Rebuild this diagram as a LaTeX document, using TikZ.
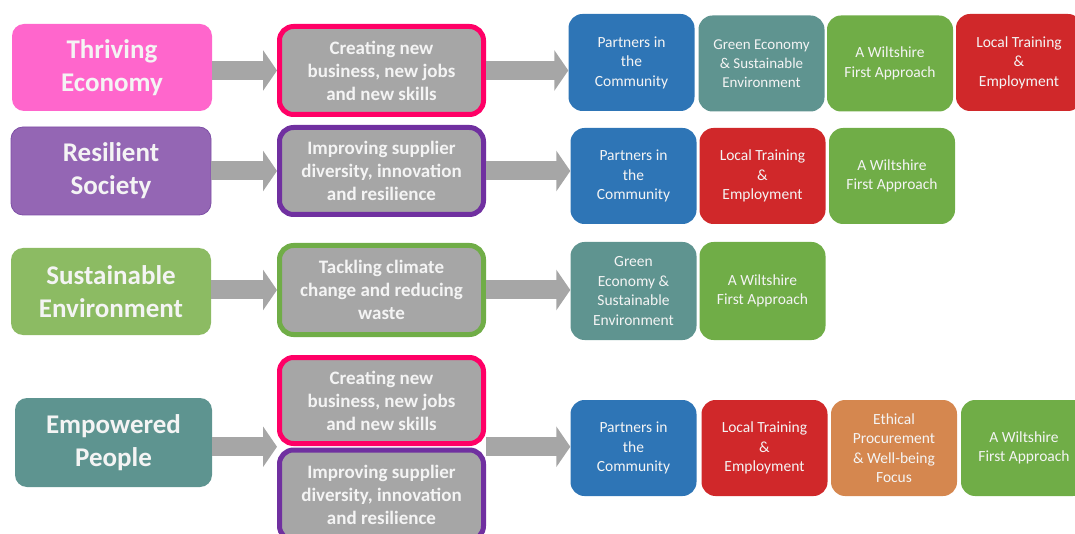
\documentclass[tikz,border=0pt]{standalone}
\usepackage{fontspec}
\setmainfont{Carlito}
\usetikzlibrary{arrows.meta,calc}
\definecolor{pinkL}{HTML}{FF66CC}
\definecolor{purpleL}{HTML}{9466B4}
\definecolor{purpleLb}{HTML}{7E4FA6}
\definecolor{greenL}{HTML}{8CBB63}
\definecolor{tealL}{HTML}{5E9490}
\definecolor{midgray}{HTML}{A6A6A6}
\definecolor{bpink}{HTML}{FF0066}
\definecolor{bpurple}{HTML}{7030A0}
\definecolor{bgreen}{HTML}{70AD47}
\definecolor{arrowgray}{HTML}{A6A6A6}
\definecolor{cblue}{HTML}{2E75B6}
\definecolor{cteal}{HTML}{5F9490}
\definecolor{cgreen}{HTML}{70AD47}
\definecolor{cred}{HTML}{D0282A}
\definecolor{corange}{HTML}{D5874F}
\definecolor{txt}{HTML}{F4F4F4}
\tikzset{
  base/.style={rounded corners=12pt, align=center, text=txt, inner sep=0pt},
  lbox/.style={base, minimum width=200pt, minimum height=87pt, font=\fontsize{27}{33}\selectfont\bfseries},
  mbox/.style={base, fill=midgray, line width=5pt, minimum width=204pt, minimum height=88pt, rounded corners=14pt, font=\fontsize{19}{23}\selectfont\bfseries},
  rbox/.style={base, minimum width=126pt, minimum height=96pt, rounded corners=14pt, font=\fontsize{15.5}{19.5}\selectfont},
  arr/.style={draw=arrowgray, line width=19pt, -{Triangle[width=40pt,length=14pt]}}
}
\begin{document}
\begin{tikzpicture}[x=1pt,y=-1pt]
\useasboundingbox (0,0) rectangle (1075,534);
\clip (0,0) rectangle (1075,534);
% Row 1
\node[lbox, fill=pinkL] (te) at (112,67.5) {Thriving\\Economy};
\node[mbox, draw=bpink, minimum height=88pt] (cm1) at (381.5,70.5) {Creating new\\business, new jobs\\and new skills};
\node[rbox, fill=cblue, minimum height=97pt] (p1) at (631.5,62.5) {Partners in\\the\\Community};
\node[rbox, fill=cteal, font=\fontsize{15}{19}\selectfont] (g1) at (761.5,63.5) {Green Economy\\\& Sustainable\\Environment};
\node[rbox, fill=cgreen] (w1) at (890,63.5) {A Wiltshire\\First Approach};
\node[rbox, fill=cred, minimum height=97pt] (l1) at (1019,62.5) {Local Training\\\&\\Employment};
% Row 2
\node[lbox, fill=purpleL, draw=purpleLb, line width=0.8pt, minimum height=88pt] (rs) at (111,171) {Resilient\\Society};
\node[mbox, draw=bpurple, minimum height=87pt] (cm2) at (381.5,171) {Improving supplier\\diversity, innovation\\and resilience};
\node[rbox, fill=cblue] (p2) at (633.5,176) {Partners in\\the\\Community};
\node[rbox, fill=cred] (l2) at (762.5,176) {Local Training\\\&\\Employment};
\node[rbox, fill=cgreen] (w2) at (892,176) {A Wiltshire\\First Approach};
% Row 3
\node[lbox, fill=greenL] (se) at (111,291.5) {Sustainable\\Environment};
\node[mbox, draw=bgreen, minimum height=89pt] (cm3) at (381.5,290) {Tackling climate\\change and reducing\\waste};
\node[rbox, fill=cteal, minimum height=98pt] (g3) at (633.5,291) {Green\\Economy \&\\Sustainable\\Environment};
\node[rbox, fill=cgreen, minimum height=98pt] (w3) at (762.5,291) {A Wiltshire\\First Approach};
% Row 4
\node[lbox, fill=tealL, minimum width=197pt, minimum height=89pt] (ep) at (113.5,442.5) {Empowered\\People};
\node[mbox, draw=bpink, minimum height=86pt] (cm4a) at (381.5,400.5) {Creating new\\business, new jobs\\and new skills};
\node[mbox, draw=bpurple, minimum height=90pt] (cm4b) at (381.5,495) {Improving supplier\\diversity, innovation\\and resilience};
\node[rbox, fill=cblue] (p4) at (633.5,448) {Partners in\\the\\Community};
\node[rbox, fill=cred] (l4) at (764.5,448) {Local Training\\\&\\Employment};
\node[rbox, fill=corange] (e4) at (894,448) {Ethical\\Procurement\\\& Well-being\\Focus};
\node[rbox, fill=cgreen] (w4) at (1024,448) {A Wiltshire\\First Approach};
\coordinate (j4) at ($(cm4a.south west)!0.5!(cm4b.north west)$);
\coordinate (k4) at ($(cm4a.south east)!0.5!(cm4b.north east)$);
% Arrows
\draw[arr] (te.east |- cm1.west) -- (cm1.west);
\draw[arr] (cm1.east) -- (cm1.east -| p1.west);
\draw[arr] (rs.east |- cm2.west) -- (cm2.west);
\draw[arr] (cm2.east) -- (cm2.east -| p2.west);
\draw[arr] (se.east |- cm3.west) -- (cm3.west);
\draw[arr] (cm3.east) -- (cm3.east -| g3.west);
\draw[arr] (ep.east |- j4) -- (j4);
\draw[arr] (k4) -- (k4 -| p4.west);
\end{tikzpicture}
\end{document}
